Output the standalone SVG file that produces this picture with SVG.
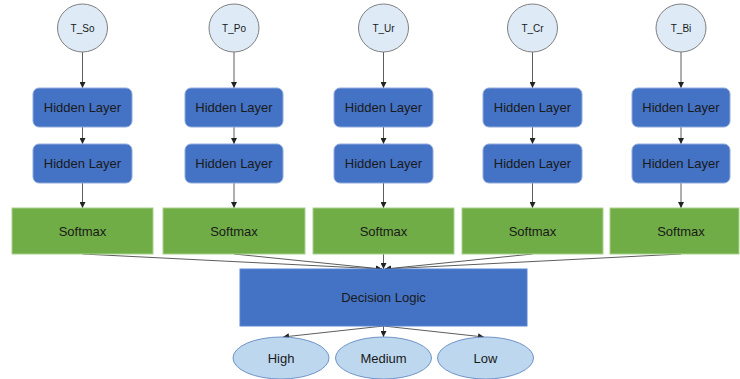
<svg xmlns="http://www.w3.org/2000/svg" width="740" height="379" viewBox="0 0 740 379">
<defs>
<marker id="arr" viewBox="0 0 10 10" refX="10" refY="5" markerWidth="6" markerHeight="6" orient="auto" markerUnits="userSpaceOnUse">
<path d="M0,0 L10,5 L0,10 z" fill="#222"/>
</marker>
<style>
.in{fill:#DEEBF7;stroke:#7F7F7F;stroke-width:1}
.hid{fill:#4472C4;stroke:#8FAADC;stroke-width:1}
.sm{fill:#70AD47;stroke:#A9D18E;stroke-width:1}
.dl{fill:#4472C4;stroke:#5B86D0;stroke-width:1}
.out{fill:#BDD7EE;stroke:#6F93C7;stroke-width:1}
text{font-family:"Liberation Sans","Open Sans",Arial,sans-serif;fill:#1a1a1a;text-anchor:middle;dominant-baseline:central}
.t13{font-size:13px}
.t10{font-size:10px}
.c line{stroke:#333;stroke-width:0.8;marker-end:url(#arr)}
</style>
</defs>
<rect width="740" height="379" fill="#fff"/>
<g class="c">
<line x1="82.5" y1="52" x2="82.5" y2="88"/>
<line x1="82.5" y1="127" x2="82.5" y2="144"/>
<line x1="82.5" y1="183" x2="82.5" y2="208"/>
<line x1="234" y1="52" x2="234" y2="88"/>
<line x1="234" y1="127" x2="234" y2="144"/>
<line x1="234" y1="183" x2="234" y2="208"/>
<line x1="383.5" y1="52" x2="383.5" y2="88"/>
<line x1="383.5" y1="127" x2="383.5" y2="144"/>
<line x1="383.5" y1="183" x2="383.5" y2="208"/>
<line x1="532.5" y1="52" x2="532.5" y2="88"/>
<line x1="532.5" y1="127" x2="532.5" y2="144"/>
<line x1="532.5" y1="183" x2="532.5" y2="208"/>
<line x1="681" y1="52" x2="681" y2="88"/>
<line x1="681" y1="127" x2="681" y2="144"/>
<line x1="681" y1="183" x2="681" y2="208"/>
<line x1="82.5" y1="254" x2="382" y2="269"/>
<line x1="234" y1="254" x2="382" y2="269"/>
<line x1="383.5" y1="254" x2="383.5" y2="269"/>
<line x1="532.5" y1="254" x2="385" y2="269"/>
<line x1="681" y1="254" x2="385" y2="269"/>
<line x1="383.5" y1="326" x2="283" y2="337"/>
<line x1="383.5" y1="326" x2="383.5" y2="337"/>
<line x1="383.5" y1="326" x2="484" y2="337"/>
</g>
<g id="in_so"><ellipse class="in" cx="82.5" cy="28" rx="25" ry="24"/><text class="t10" x="82.5" y="28">T_So</text></g>
<g id="in_po"><ellipse class="in" cx="234" cy="28" rx="25" ry="24"/><text class="t10" x="234" y="28">T_Po</text></g>
<g id="in_ur"><ellipse class="in" cx="383.5" cy="28" rx="25" ry="24"/><text class="t10" x="383.5" y="28">T_Ur</text></g>
<g id="in_cr"><ellipse class="in" cx="532.5" cy="28" rx="25" ry="24"/><text class="t10" x="532.5" y="28">T_Cr</text></g>
<g id="in_bi"><ellipse class="in" cx="681" cy="28" rx="25" ry="24"/><text class="t10" x="681" y="28">T_Bi</text></g>
<g id="h1_so"><rect class="hid" x="33" y="88" width="99" height="39" rx="6"/><text class="t13" x="82.5" y="107.5">Hidden Layer</text></g>
<g id="h1_po"><rect class="hid" x="185" y="88" width="98" height="39" rx="6"/><text class="t13" x="234" y="107.5">Hidden Layer</text></g>
<g id="h1_ur"><rect class="hid" x="334" y="88" width="99" height="39" rx="6"/><text class="t13" x="383.5" y="107.5">Hidden Layer</text></g>
<g id="h1_cr"><rect class="hid" x="483" y="88" width="99" height="39" rx="6"/><text class="t13" x="532.5" y="107.5">Hidden Layer</text></g>
<g id="h1_bi"><rect class="hid" x="632" y="88" width="98" height="39" rx="6"/><text class="t13" x="681" y="107.5">Hidden Layer</text></g>
<g id="h2_so"><rect class="hid" x="33" y="144" width="99" height="39" rx="6"/><text class="t13" x="82.5" y="163.5">Hidden Layer</text></g>
<g id="h2_po"><rect class="hid" x="185" y="144" width="98" height="39" rx="6"/><text class="t13" x="234" y="163.5">Hidden Layer</text></g>
<g id="h2_ur"><rect class="hid" x="334" y="144" width="99" height="39" rx="6"/><text class="t13" x="383.5" y="163.5">Hidden Layer</text></g>
<g id="h2_cr"><rect class="hid" x="483" y="144" width="99" height="39" rx="6"/><text class="t13" x="532.5" y="163.5">Hidden Layer</text></g>
<g id="h2_bi"><rect class="hid" x="632" y="144" width="98" height="39" rx="6"/><text class="t13" x="681" y="163.5">Hidden Layer</text></g>
<g id="sm_so"><rect class="sm" x="12" y="208" width="141" height="46"/><text class="t13" x="82.5" y="231">Softmax</text></g>
<g id="sm_po"><rect class="sm" x="163" y="208" width="142" height="46"/><text class="t13" x="234" y="231">Softmax</text></g>
<g id="sm_ur"><rect class="sm" x="313" y="208" width="141" height="46"/><text class="t13" x="383.5" y="231">Softmax</text></g>
<g id="sm_cr"><rect class="sm" x="462" y="208" width="141" height="46"/><text class="t13" x="532.5" y="231">Softmax</text></g>
<g id="sm_bi"><rect class="sm" x="610" y="208" width="129" height="46"/><text class="t13" x="681" y="231">Softmax</text></g>
<g id="decision"><rect class="dl" x="240" y="269" width="287" height="57"/><text class="t13" x="383.5" y="297.5">Decision Logic</text></g>
<g id="high"><ellipse class="out" cx="281" cy="358" rx="48" ry="21"/><text class="t13" x="281" y="358">High</text></g>
<g id="medium"><ellipse class="out" cx="383.5" cy="358" rx="48" ry="21"/><text class="t13" x="383.5" y="358">Medium</text></g>
<g id="low"><ellipse class="out" cx="485.5" cy="358" rx="48" ry="21"/><text class="t13" x="485.5" y="358">Low</text></g>
</svg>
